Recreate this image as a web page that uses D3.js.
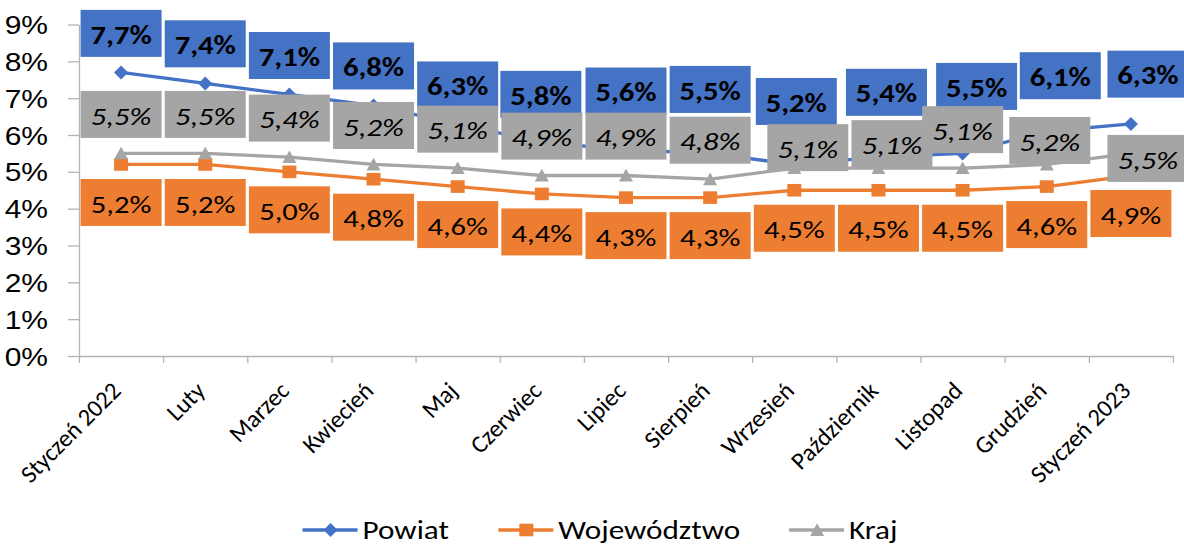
<!DOCTYPE html>
<html>
<head>
<meta charset="utf-8">
<script src="https://cdn.jsdelivr.net/npm/d3@7"></script>
<style>
  html, body { margin: 0; padding: 0; background: #fff; }
  svg { display: block; font-family: Carlito, Calibri, Lato, sans-serif; }
</style>
</head>
<body>
<div id="chart"></div>
<script>
// months on the x axis
const months = ['Styczeń 2022', 'Luty', 'Marzec', 'Kwiecień', 'Maj', 'Czerwiec', 'Lipiec',
  'Sierpień', 'Wrzesień', 'Październik', 'Listopad', 'Grudzień', 'Styczeń 2023'];
// stopa bezrobocia, %
const powiat = [7.7, 7.4, 7.1, 6.8, 6.3, 5.8, 5.6, 5.5, 5.2, 5.4, 5.5, 6.1, 6.3];
const wojewodztwo = [5.2, 5.2, 5.0, 4.8, 4.6, 4.4, 4.3, 4.3, 4.5, 4.5, 4.5, 4.6, 4.9];
const kraj = [5.5, 5.5, 5.4, 5.2, 5.1, 4.9, 4.9, 4.8, 5.1, 5.1, 5.1, 5.2, 5.5];
const yTicks = [0, 1, 2, 3, 4, 5, 6, 7, 8, 9];
const seriesNames = ['Powiat', 'Województwo', 'Kraj'];

// labels were dragged by hand in the original, keep their nudges (px from the point)
const powiatLabelShift = [[0, -39], [0, -39.6], [0, -39], [0, -39.6], [0, -39], [-1, -48], [0, -58.7],
  [0, -64], [2, -63], [8, -64.8], [14, -67], [13.5, -55.6], [17, -49.8]];
const wojLabelShift = months.map(() => [0, 38]);
const krajLabelShift = [[0, -39], [0, -39], [0, -39], [0, -39], [0, -39], [0, -39.4], [0, -39.4],
  [0, -39], [13.5, -20.5], [13.5, -24.5], [0, -38.5], [3, -24], [17, 5]];

const width = 1184;
const height = 546;
const plotLeft = 79, plotRight = 1173, plotTop = 24.5, plotBottom = 356;
const stretch = 1.2; // the original font runs wider than Lato
const fmt = (v) => v.toFixed(1).replace('.', ',') + '%';

const series = [
  { name: seriesNames[0], values: powiat, color: '#4472c4', marker: 'diamond', shift: powiatLabelShift, weight: 'bold', style: 'normal' },
  { name: seriesNames[1], values: wojewodztwo, color: '#ed7d31', marker: 'square', shift: wojLabelShift, weight: 'normal', style: 'normal' },
  { name: seriesNames[2], values: kraj, color: '#a5a5a5', marker: 'triangle', shift: krajLabelShift, weight: 'normal', style: 'italic' },
];

const svg = d3.select('#chart').append('svg')
  .attr('width', width)
  .attr('height', height)
  .attr('viewBox', `0 0 ${width} ${height}`);

const x = d3.scaleBand().domain(months).range([plotLeft, plotRight]);
const xEdges = d3.scaleLinear().domain([0, months.length]).range([plotLeft, plotRight]);
const y = d3.scaleLinear().domain([0, 9]).range([plotBottom, plotTop]);
const cx = (i) => x(months[i]) + x.bandwidth() / 2;

function markerPath(type, s) {
  if (type === 'diamond') return `M0,${-s}L${s},0L0,${s}L${-s},0Z`;
  if (type === 'square') return `M${-s},${-s * 0.9}H${s}V${s * 0.9}H${-s}Z`;
  return `M0,${-s * 0.95}L${s},${s * 0.85}L${-s},${s * 0.85}Z`;
}

// axes
const axisColor = '#b4b4b4';
svg.append('g')
  .attr('transform', `translate(${plotLeft},0)`)
  .call(d3.axisLeft(y).tickValues(yTicks).tickFormat((d) => d + '%').tickSize(11).tickSizeOuter(0).tickPadding(20))
  .call((g) => g.selectAll('path, line').attr('stroke', axisColor).attr('stroke-width', 1.3))
  .call((g) => g.selectAll('text')
    .attr('fill', '#000')
    .attr('x', 0)
    .attr('transform', `translate(-31,0) scale(${stretch},1)`)
    .style('font-size', '25px')
    .attr('dy', '0.36em'));

svg.append('g')
  .attr('transform', `translate(0,${plotBottom})`)
  .call(d3.axisBottom(xEdges).tickValues(d3.range(months.length + 1)).tickFormat('').tickSize(7).tickSizeOuter(0))
  .call((g) => g.selectAll('path, line').attr('stroke', axisColor).attr('stroke-width', 1.3));

svg.append('g')
  .selectAll('text')
  .data(months)
  .join('text')
  .attr('transform', (d, i) => `translate(${cx(i) - 5},${plotBottom + 30}) rotate(-45)`)
  .attr('text-anchor', 'end')
  .attr('dy', '0.36em')
  .style('font-size', '24.5px')
  .attr('fill', '#000')
  .text((d) => d);

// lines + markers
const line = d3.line()
  .x((d, i) => cx(i))
  .y((d) => y(d));

series.forEach((s) => {
  svg.append('path')
    .datum(s.values)
    .attr('fill', 'none')
    .attr('stroke', s.color)
    .attr('stroke-width', 3.3)
    .attr('stroke-linejoin', 'round')
    .attr('d', line);
  svg.append('g')
    .selectAll('path')
    .data(s.values)
    .join('path')
    .attr('transform', (d, i) => `translate(${cx(i)},${y(d)})`)
    .attr('fill', s.color)
    .attr('d', markerPath(s.marker, 7));
});

// data labels: boxes in series order, on top of every line
const boxW = 81, boxH = 47;
series.forEach((s) => {
  const g = svg.append('g')
    .selectAll('g')
    .data(s.values)
    .join('g')
    .attr('transform', (d, i) => `translate(${cx(i) + s.shift[i][0]},${y(d) + s.shift[i][1]})`);
  g.append('rect')
    .attr('x', -boxW / 2)
    .attr('y', -boxH / 2)
    .attr('width', boxW)
    .attr('height', boxH)
    .attr('fill', s.color);
  g.append('text')
    .attr('text-anchor', 'middle')
    .attr('transform', `translate(0,1) scale(${stretch},1)`)
    .attr('dy', '0.36em')
    .style('font-size', '25.5px')
    .style('font-weight', s.weight)
    .style('font-style', s.style)
    .attr('fill', '#000')
    .text((d) => fmt(d));
});

// legend
const legend = svg.append('g').attr('transform', `translate(0,530)`);
const items = legend.selectAll('g')
  .data(series)
  .join('g');
items.append('line')
  .attr('x1', 0).attr('x2', 55)
  .attr('stroke', (d) => d.color)
  .attr('stroke-width', 3.3);
items.append('path')
  .attr('transform', 'translate(28,0)')
  .attr('fill', (d) => d.color)
  .attr('d', (d) => markerPath(d.marker, 7));
items.append('text')
  .attr('transform', `translate(60,0) scale(${stretch},1)`)
  .attr('dy', '0.36em')
  .style('font-size', '26px')
  .attr('fill', '#000')
  .text((d) => d.name);

const offsets = [];
let acc = 0;
items.each(function () {
  const w = this.getBBox().width;
  offsets.push(acc);
  acc += w + 49;
});
const total = acc - 49;
const startX = 600 - total / 2;
items.attr('transform', (d, i) => `translate(${startX + offsets[i]},0)`);
</script>
</body>
</html>
